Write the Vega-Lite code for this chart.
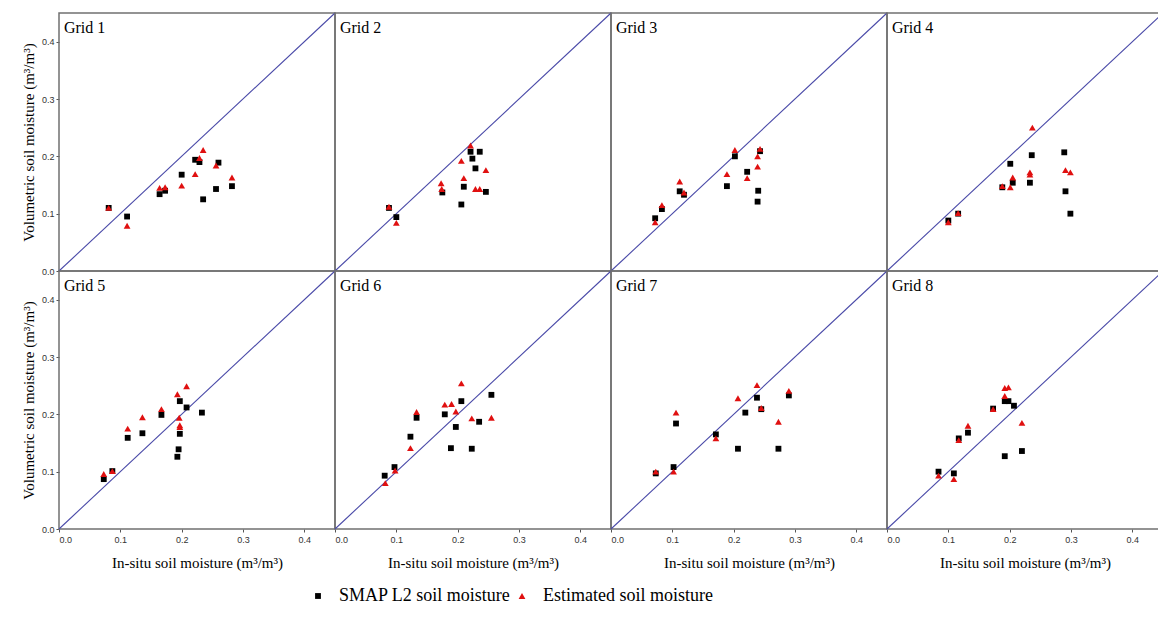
{
  "$schema": "https://vega.github.io/schema/vega-lite/v6.json",
  "padding": {"left": 21, "top": 11, "right": 0, "bottom": 0},
  "background": "white",
  "config": {
    "view": {"stroke": "#707070", "strokeWidth": 1.5},
    "header": {"labels": false, "title": null, "labelFontSize": 0, "labelPadding": 0, "titlePadding": 0},
    "axis": {"grid": false, "domain": false, "tickSize": 3, "tickColor": "#555555", "labelFont": "Liberation Sans", "labelFontSize": 9, "labelColor": "#333333", "labelPadding": 2, "titleFont": "Liberation Serif", "titleFontSize": 15, "titleFontWeight": "normal", "titleColor": "#000000"},
    "legend": {"orient": "none", "legendX": 250, "legendY": 574, "direction": "horizontal", "labelFont": "Liberation Serif", "labelFontSize": 18, "labelColor": "#000000", "labelLimit": 0, "symbolSize": 30, "columnPadding": 2, "labelOffset": 12, "title": null}
  },
  "data": {"values": [
    {"g":"Grid 1","s":"S","x":0.081,"y":0.110},{"g":"Grid 1","s":"S","x":0.111,"y":0.095},{"g":"Grid 1","s":"S","x":0.164,"y":0.134},{"g":"Grid 1","s":"S","x":0.173,"y":0.140},{"g":"Grid 1","s":"S","x":0.200,"y":0.168},{"g":"Grid 1","s":"S","x":0.222,"y":0.194},{"g":"Grid 1","s":"S","x":0.229,"y":0.190},{"g":"Grid 1","s":"S","x":0.235,"y":0.125},{"g":"Grid 1","s":"S","x":0.256,"y":0.143},{"g":"Grid 1","s":"S","x":0.260,"y":0.189},{"g":"Grid 1","s":"S","x":0.282,"y":0.148},
    {"g":"Grid 1","s":"E","x":0.081,"y":0.110},{"g":"Grid 1","s":"E","x":0.111,"y":0.079},{"g":"Grid 1","s":"E","x":0.164,"y":0.145},{"g":"Grid 1","s":"E","x":0.173,"y":0.146},{"g":"Grid 1","s":"E","x":0.200,"y":0.149},{"g":"Grid 1","s":"E","x":0.222,"y":0.169},{"g":"Grid 1","s":"E","x":0.229,"y":0.197},{"g":"Grid 1","s":"E","x":0.235,"y":0.211},{"g":"Grid 1","s":"E","x":0.256,"y":0.184},{"g":"Grid 1","s":"E","x":0.282,"y":0.163},
    {"g":"Grid 2","s":"S","x":0.088,"y":0.110},{"g":"Grid 2","s":"S","x":0.100,"y":0.094},{"g":"Grid 2","s":"S","x":0.175,"y":0.137},{"g":"Grid 2","s":"S","x":0.206,"y":0.116},{"g":"Grid 2","s":"S","x":0.210,"y":0.147},{"g":"Grid 2","s":"S","x":0.221,"y":0.208},{"g":"Grid 2","s":"S","x":0.236,"y":0.208},{"g":"Grid 2","s":"S","x":0.224,"y":0.196},{"g":"Grid 2","s":"S","x":0.229,"y":0.179},{"g":"Grid 2","s":"S","x":0.246,"y":0.138},
    {"g":"Grid 2","s":"E","x":0.088,"y":0.112},{"g":"Grid 2","s":"E","x":0.100,"y":0.084},{"g":"Grid 2","s":"E","x":0.173,"y":0.153},{"g":"Grid 2","s":"E","x":0.174,"y":0.143},{"g":"Grid 2","s":"E","x":0.206,"y":0.192},{"g":"Grid 2","s":"E","x":0.210,"y":0.162},{"g":"Grid 2","s":"E","x":0.221,"y":0.219},{"g":"Grid 2","s":"E","x":0.229,"y":0.143},{"g":"Grid 2","s":"E","x":0.236,"y":0.143},{"g":"Grid 2","s":"E","x":0.246,"y":0.176},
    {"g":"Grid 3","s":"S","x":0.072,"y":0.092},{"g":"Grid 3","s":"S","x":0.083,"y":0.108},{"g":"Grid 3","s":"S","x":0.112,"y":0.139},{"g":"Grid 3","s":"S","x":0.119,"y":0.133},{"g":"Grid 3","s":"S","x":0.189,"y":0.148},{"g":"Grid 3","s":"S","x":0.202,"y":0.200},{"g":"Grid 3","s":"S","x":0.222,"y":0.173},{"g":"Grid 3","s":"S","x":0.240,"y":0.140},{"g":"Grid 3","s":"S","x":0.239,"y":0.121},{"g":"Grid 3","s":"S","x":0.243,"y":0.209},
    {"g":"Grid 3","s":"E","x":0.072,"y":0.085},{"g":"Grid 3","s":"E","x":0.083,"y":0.115},{"g":"Grid 3","s":"E","x":0.112,"y":0.156},{"g":"Grid 3","s":"E","x":0.119,"y":0.137},{"g":"Grid 3","s":"E","x":0.189,"y":0.169},{"g":"Grid 3","s":"E","x":0.202,"y":0.211},{"g":"Grid 3","s":"E","x":0.222,"y":0.162},{"g":"Grid 3","s":"E","x":0.239,"y":0.182},{"g":"Grid 3","s":"E","x":0.239,"y":0.200},{"g":"Grid 3","s":"E","x":0.243,"y":0.213},
    {"g":"Grid 4","s":"S","x":0.100,"y":0.088},{"g":"Grid 4","s":"S","x":0.116,"y":0.100},{"g":"Grid 4","s":"S","x":0.188,"y":0.146},{"g":"Grid 4","s":"S","x":0.201,"y":0.187},{"g":"Grid 4","s":"S","x":0.205,"y":0.154},{"g":"Grid 4","s":"S","x":0.233,"y":0.154},{"g":"Grid 4","s":"S","x":0.236,"y":0.202},{"g":"Grid 4","s":"S","x":0.289,"y":0.207},{"g":"Grid 4","s":"S","x":0.291,"y":0.139},{"g":"Grid 4","s":"S","x":0.299,"y":0.100},
    {"g":"Grid 4","s":"E","x":0.100,"y":0.085},{"g":"Grid 4","s":"E","x":0.116,"y":0.101},{"g":"Grid 4","s":"E","x":0.188,"y":0.148},{"g":"Grid 4","s":"E","x":0.201,"y":0.146},{"g":"Grid 4","s":"E","x":0.205,"y":0.163},{"g":"Grid 4","s":"E","x":0.233,"y":0.172},{"g":"Grid 4","s":"E","x":0.233,"y":0.168},{"g":"Grid 4","s":"E","x":0.237,"y":0.250},{"g":"Grid 4","s":"E","x":0.291,"y":0.176},{"g":"Grid 4","s":"E","x":0.299,"y":0.172},
    {"g":"Grid 5","s":"S","x":0.073,"y":0.087},{"g":"Grid 5","s":"S","x":0.087,"y":0.101},{"g":"Grid 5","s":"S","x":0.112,"y":0.159},{"g":"Grid 5","s":"S","x":0.136,"y":0.167},{"g":"Grid 5","s":"S","x":0.167,"y":0.199},{"g":"Grid 5","s":"S","x":0.197,"y":0.223},{"g":"Grid 5","s":"S","x":0.208,"y":0.212},{"g":"Grid 5","s":"S","x":0.233,"y":0.203},{"g":"Grid 5","s":"S","x":0.197,"y":0.166},{"g":"Grid 5","s":"S","x":0.195,"y":0.139},{"g":"Grid 5","s":"S","x":0.193,"y":0.126},
    {"g":"Grid 5","s":"E","x":0.073,"y":0.096},{"g":"Grid 5","s":"E","x":0.087,"y":0.101},{"g":"Grid 5","s":"E","x":0.112,"y":0.175},{"g":"Grid 5","s":"E","x":0.136,"y":0.195},{"g":"Grid 5","s":"E","x":0.167,"y":0.209},{"g":"Grid 5","s":"E","x":0.193,"y":0.235},{"g":"Grid 5","s":"E","x":0.208,"y":0.249},{"g":"Grid 5","s":"E","x":0.196,"y":0.194},{"g":"Grid 5","s":"E","x":0.197,"y":0.181},{"g":"Grid 5","s":"E","x":0.197,"y":0.178},
    {"g":"Grid 6","s":"S","x":0.081,"y":0.093},{"g":"Grid 6","s":"S","x":0.097,"y":0.108},{"g":"Grid 6","s":"S","x":0.123,"y":0.161},{"g":"Grid 6","s":"S","x":0.133,"y":0.194},{"g":"Grid 6","s":"S","x":0.179,"y":0.200},{"g":"Grid 6","s":"S","x":0.189,"y":0.141},{"g":"Grid 6","s":"S","x":0.197,"y":0.178},{"g":"Grid 6","s":"S","x":0.206,"y":0.223},{"g":"Grid 6","s":"S","x":0.223,"y":0.140},{"g":"Grid 6","s":"S","x":0.235,"y":0.187},{"g":"Grid 6","s":"S","x":0.255,"y":0.234},
    {"g":"Grid 6","s":"E","x":0.082,"y":0.080},{"g":"Grid 6","s":"E","x":0.098,"y":0.102},{"g":"Grid 6","s":"E","x":0.123,"y":0.141},{"g":"Grid 6","s":"E","x":0.133,"y":0.204},{"g":"Grid 6","s":"E","x":0.179,"y":0.217},{"g":"Grid 6","s":"E","x":0.190,"y":0.218},{"g":"Grid 6","s":"E","x":0.197,"y":0.205},{"g":"Grid 6","s":"E","x":0.206,"y":0.254},{"g":"Grid 6","s":"E","x":0.223,"y":0.193},{"g":"Grid 6","s":"E","x":0.255,"y":0.194},
    {"g":"Grid 7","s":"S","x":0.073,"y":0.097},{"g":"Grid 7","s":"S","x":0.102,"y":0.108},{"g":"Grid 7","s":"S","x":0.106,"y":0.184},{"g":"Grid 7","s":"S","x":0.171,"y":0.165},{"g":"Grid 7","s":"S","x":0.207,"y":0.140},{"g":"Grid 7","s":"S","x":0.219,"y":0.203},{"g":"Grid 7","s":"S","x":0.238,"y":0.229},{"g":"Grid 7","s":"S","x":0.245,"y":0.209},{"g":"Grid 7","s":"S","x":0.273,"y":0.140},{"g":"Grid 7","s":"S","x":0.290,"y":0.233},
    {"g":"Grid 7","s":"E","x":0.073,"y":0.100},{"g":"Grid 7","s":"E","x":0.102,"y":0.100},{"g":"Grid 7","s":"E","x":0.106,"y":0.203},{"g":"Grid 7","s":"E","x":0.171,"y":0.158},{"g":"Grid 7","s":"E","x":0.207,"y":0.228},{"g":"Grid 7","s":"E","x":0.238,"y":0.251},{"g":"Grid 7","s":"E","x":0.245,"y":0.211},{"g":"Grid 7","s":"E","x":0.273,"y":0.187},{"g":"Grid 7","s":"E","x":0.290,"y":0.241},
    {"g":"Grid 8","s":"S","x":0.084,"y":0.100},{"g":"Grid 8","s":"S","x":0.109,"y":0.097},{"g":"Grid 8","s":"S","x":0.117,"y":0.158},{"g":"Grid 8","s":"S","x":0.132,"y":0.168},{"g":"Grid 8","s":"S","x":0.173,"y":0.210},{"g":"Grid 8","s":"S","x":0.192,"y":0.223},{"g":"Grid 8","s":"S","x":0.198,"y":0.223},{"g":"Grid 8","s":"S","x":0.207,"y":0.215},{"g":"Grid 8","s":"S","x":0.192,"y":0.127},{"g":"Grid 8","s":"S","x":0.220,"y":0.136},
    {"g":"Grid 8","s":"E","x":0.084,"y":0.093},{"g":"Grid 8","s":"E","x":0.109,"y":0.087},{"g":"Grid 8","s":"E","x":0.117,"y":0.155},{"g":"Grid 8","s":"E","x":0.132,"y":0.180},{"g":"Grid 8","s":"E","x":0.173,"y":0.209},{"g":"Grid 8","s":"E","x":0.192,"y":0.232},{"g":"Grid 8","s":"E","x":0.192,"y":0.246},{"g":"Grid 8","s":"E","x":0.198,"y":0.247},{"g":"Grid 8","s":"E","x":0.220,"y":0.185}
  ]},
  "facet": {"field": "g", "type": "nominal", "title": null, "header": {"labels": false, "title": null, "labelFontSize": 0, "labelPadding": 0, "labelExpr": "''"}},
  "columns": 4,
  "spacing": 0,
  "bounds": "flush",
  "spec": {
    "width": 276,
    "height": 258,
    "layer": [
      {
        "transform": [{"aggregate": [{"op": "count", "as": "n"}], "groupby": ["g"]}],
        "mark": {"type": "rule", "color": "#4a4aa8", "strokeWidth": 1.1},
        "encoding": {
          "x": {"datum": 0, "type": "quantitative"},
          "y": {"datum": 0, "type": "quantitative"},
          "x2": {"datum": 0.45},
          "y2": {"datum": 0.45}
        }
      },
      {
        "mark": {"type": "point", "filled": true, "opacity": 1, "strokeWidth": 0},
        "encoding": {
          "x": {"field": "x", "type": "quantitative", "title": "In-situ soil moisture (m³/m³)",
            "scale": {"domain": [0, 0.45], "nice": false, "zero": true},
            "axis": {"values": [0, 0.05, 0.1, 0.15, 0.2, 0.25, 0.3, 0.35, 0.4], "labelExpr": "round(datum.value*20) % 2 == 0 ? format(datum.value, '.1f') : ''", "labelPadding": 3, "titlePadding": 11}},
          "y": {"field": "y", "type": "quantitative", "title": "Volumetric soil moisture (m³/m³)",
            "scale": {"domain": [0, 0.45], "nice": false, "zero": true},
            "axis": {"values": [0, 0.05, 0.1, 0.15, 0.2, 0.25, 0.3, 0.35, 0.4], "labelExpr": "round(datum.value*20) % 2 == 0 ? format(datum.value, '.1f') : ''", "titlePadding": 5}},
          "shape": {"field": "s", "type": "nominal", "scale": {"domain": ["S", "E"], "range": ["square", "triangle-up"]}, "legend": {"labelExpr": "datum.value == 'S' ? 'SMAP L2 soil moisture' : 'Estimated soil moisture'"}},
          "color": {"field": "s", "type": "nominal", "scale": {"domain": ["S", "E"], "range": ["#000000", "#e01010"]}, "legend": {"labelExpr": "datum.value == 'S' ? 'SMAP L2 soil moisture' : 'Estimated soil moisture'"}},
          "size": {"field": "s", "type": "ordinal", "scale": {"domain": ["S", "E"], "range": [34, 46]}, "legend": null}
        }
      },
      {
        "transform": [{"aggregate": [{"op": "count", "as": "n"}], "groupby": ["g"]}],
        "mark": {"type": "text", "align": "left", "baseline": "middle", "font": "Liberation Serif", "fontSize": 16, "color": "#000000"},
        "encoding": {
          "x": {"datum": 0.008, "type": "quantitative"},
          "y": {"datum": 0.424, "type": "quantitative"},
          "text": {"field": "g", "type": "nominal"}
        }
      }
    ]
  },
  "resolve": {"scale": {"x": "shared", "y": "shared"}}
}
